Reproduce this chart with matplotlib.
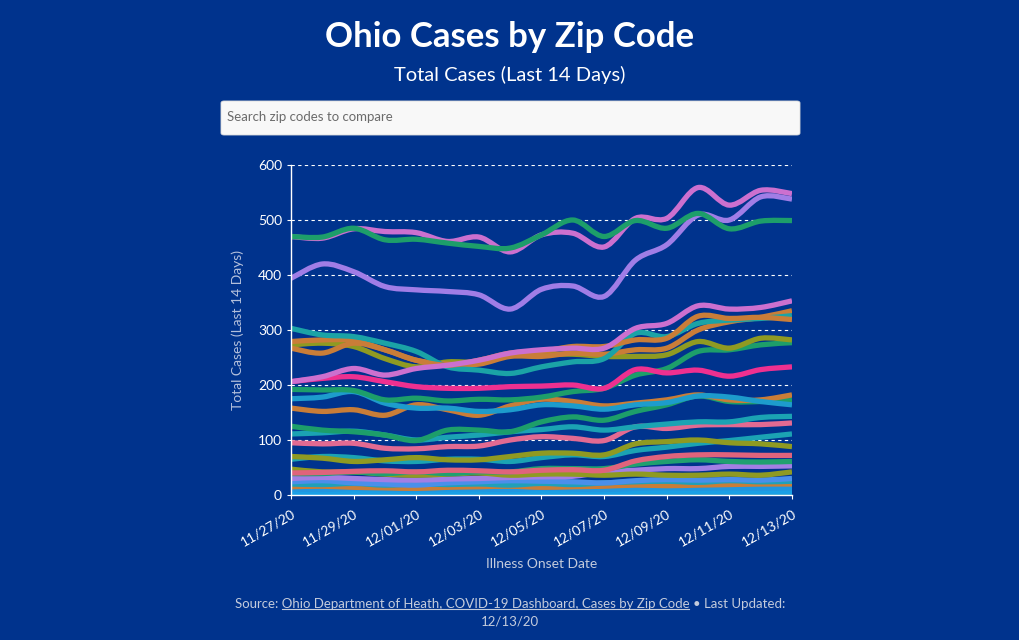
import matplotlib
matplotlib.use("Agg")
import matplotlib.pyplot as plt
from matplotlib.path import Path
from matplotlib.patches import PathPatch, FancyBboxPatch
from matplotlib.lines import Line2D
import numpy as np

plt.rcParams['font.family'] = ['Lato', 'DejaVu Sans']

# ---- data ----
dates = ["11/27/20", "11/28/20", "11/29/20", "11/30/20", "12/01/20", "12/02/20",
         "12/03/20", "12/04/20", "12/05/20", "12/06/20", "12/07/20", "12/08/20",
         "12/09/20", "12/10/20", "12/11/20", "12/12/20", "12/13/20"]

olive_e    = [0, 0, 0, 0, 0, 0, 0, 3, 3, 0, 3, 3, 3, 3, 0, 0, 0]
lightblue2 = [4, 4, 4, 5, 4, 4, 5, 4, 4, 5, 4, 5, 5, 5, 5, 5, 5]
lightblue  = [11, 10, 12, 11, 10, 11, 11, 10, 12, 11, 10, 12, 13, 12, 13, 12, 13]
orange_d   = [15, 16, 14, 13, 12, 14, 15, 16, 14, 15, 16, 18, 17, 18, 19, 20, 20]
teal_d     = [20, 19, 21, 18, 20, 19, 20, 18, 21, 19, 22, 24, 25, 23, 26, 24, 25]
blue_a     = [24, 26, 22, 20, 18, 22, 24, 26, 25, 24, 22, 26, 28, 27, 28, 27, 30]
lavender_b = [30, 32, 30, 28, 27, 29, 30, 32, 33, 34, 42, 45, 48, 48, 52, 52, 53]
olive_c    = [47, 42, 42, 38, 36, 38, 40, 36, 38, 38, 36, 38, 36, 36, 38, 36, 42]
green_c    = [39, 39, 42, 39, 42, 39, 42, 42, 48, 48, 48, 56, 61, 64, 61, 60, 61]
coral_b    = [40, 41, 43, 44, 42, 45, 44, 42, 45, 46, 45, 62, 70, 73, 73, 72, 72]
teal_c     = [65, 70, 68, 62, 61, 65, 65, 61, 68, 73, 70, 81, 87, 94, 99, 105, 111]
olive_b    = [70, 67, 61, 64, 68, 64, 64, 70, 76, 76, 73, 93, 97, 100, 95, 93, 88]
coral      = [95, 93, 94, 85, 84, 88, 89, 100, 106, 103, 99, 124, 121, 127, 128, 128, 131]
teal_b     = [111, 113, 116, 109, 100, 105, 109, 115, 119, 124, 118, 124, 129, 133, 133, 141, 143]
green_b    = [125, 118, 115, 109, 99, 118, 118, 115, 133, 142, 136, 152, 164, 180, 170, 170, 173]
orange_c   = [158, 152, 155, 145, 164, 155, 145, 162, 174, 170, 162, 167, 173, 182, 173, 173, 182]
cyan_blue  = [175, 178, 188, 167, 158, 158, 152, 155, 164, 162, 156, 164, 168, 180, 178, 170, 164]
green_a2   = [192, 191, 190, 173, 176, 171, 174, 173, 178, 188, 194, 218, 230, 261, 264, 273, 277]
hot_pink   = [206, 212, 215, 206, 197, 194, 194, 197, 198, 200, 194, 228, 222, 227, 216, 228, 233]
olive_a    = [273, 276, 270, 248, 233, 242, 242, 255, 255, 256, 252, 252, 255, 279, 267, 285, 282]
orange_b   = [279, 282, 281, 264, 245, 238, 238, 252, 252, 258, 256, 264, 267, 300, 315, 323, 335]
orange_a   = [267, 258, 276, 264, 245, 236, 245, 258, 261, 270, 270, 282, 285, 325, 321, 323, 319]
teal_a     = [303, 291, 288, 276, 261, 233, 227, 221, 233, 242, 248, 294, 288, 312, 318, 321, 326]
orchid_low = [206, 215, 230, 218, 230, 236, 245, 258, 264, 267, 267, 303, 312, 344, 338, 341, 353]
lavender   = [394, 420, 406, 379, 373, 370, 364, 338, 374, 380, 361, 427, 455, 509, 500, 542, 538]
green_top  = [470, 469, 485, 464, 465, 458, 452, 449, 473, 500, 470, 499, 485, 512, 484, 498, 499]
orchid_top = [470, 467, 484, 479, 477, 461, 469, 442, 473, 476, 451, 503, 503, 559, 527, 554, 548]

series = [
    (olive_e, '#8f9a22'), (lightblue2, '#1aa0e6'), (lightblue, '#2196e0'),
    (orange_d, '#c97d38'), (teal_d, '#20a0b8'), (blue_a, '#4a8fea'),
    (lavender_b, '#a27fe4'), (olive_c, '#8f9a22'), (green_c, '#20a070'),
    (coral_b, '#e0637c'), (teal_c, '#1ba3b3'), (olive_b, '#8f9a22'),
    (coral, '#e26a92'), (teal_b, '#1ba3b3'), (green_b, '#1d9e6a'),
    (orange_c, '#c97d38'), (cyan_blue, '#1d9ccc'), (green_a2, '#1d9e6a'),
    (hot_pink, '#ee3090'), (olive_a, '#8f9a22'), (orange_b, '#c97d38'),
    (teal_a, '#1ba3a6'), (orange_a, '#c97d38'), (orchid_low, '#cc70cf'),
    (lavender, '#a07de6'), (orchid_top, '#cc70cf'), (green_top, '#1d9e6a'),
]

BG = '#00338d'


def smooth_path(xs, ys):
    # cardinal (catmull-rom) curve through the daily values, drawn as bezier segments
    verts = [(xs[0], ys[0])]
    codes = [Path.MOVETO]
    n = len(xs)
    for i in range(n - 1):
        p0 = i - 1 if i > 0 else i
        p3 = i + 2 if i + 2 < n else i + 1
        c1 = (xs[i] + (xs[i + 1] - xs[p0]) / 6, ys[i] + (ys[i + 1] - ys[p0]) / 6)
        c2 = (xs[i + 1] - (xs[p3] - xs[i]) / 6, ys[i + 1] - (ys[p3] - ys[i]) / 6)
        verts += [c1, c2, (xs[i + 1], ys[i + 1])]
        codes += [Path.CURVE4] * 3
    return Path(verts, codes)


fig = plt.figure(figsize=(10.2, 6.4), dpi=100)
fig.patch.set_facecolor(BG)
ax = fig.add_axes([291 / 1020, 1 - 495 / 640, 501 / 1020, 330 / 640])
ax.set_facecolor(BG)

x = np.arange(len(dates))
for vals, col in series:
    ax.add_patch(PathPatch(smooth_path(x, vals), fill=False, edgecolor=col, lw=3.8,
                           capstyle='butt', joinstyle='round'))

ax.set_xlim(0, len(dates) - 1)
ax.set_ylim(0, 600)
ax.set_yticks(range(0, 601, 100))
ax.set_xticks(x[::2])
ax.set_xticklabels(dates[::2], rotation=30, ha='right', va='top', rotation_mode='anchor')
ax.tick_params(colors='white', labelsize=10, length=3, width=0.8)
ax.tick_params(axis='x', pad=6)
for yv in range(100, 601, 100):
    ax.axhline(yv, color='white', lw=0.8, ls=(0, (3, 3)), zorder=0)
for s in ['top', 'right']:
    ax.spines[s].set_visible(False)
for s in ['left', 'bottom']:
    ax.spines[s].set_color('white')
    ax.spines[s].set_linewidth(1)
ax.set_ylabel("Total Cases (Last 14 Days)", color='#b4c0dc', fontsize=10, labelpad=10)
ax.set_xlabel("Illness Onset Date", color='#c3cbdc', fontsize=10, labelpad=7)

# header
fig.text(0.5, 1 - 37 / 640, "Ohio Cases by Zip Code", color='white', fontsize=25,
         fontweight='bold', ha='center', va='center')
fig.text(0.5, 1 - 75 / 640, "Total Cases (Last 14 Days)", color='white', fontsize=14.5,
         ha='center', va='center')
box = FancyBboxPatch((221 / 1020, 1 - 135 / 640), 579 / 1020, 34 / 640,
                     boxstyle="round,pad=0,rounding_size=0.003", transform=fig.transFigure,
                     facecolor='#f8f8f8', edgecolor='#dddddd', lw=0.6)
fig.patches.append(box)
fig.text(227 / 1020, 1 - 117 / 640, "Search zip codes to compare", color='#6b6b6b',
         fontsize=9.5, ha='left', va='center')

# source line with underlined link
src = "Source: Ohio Department of Heath, COVID-19 Dashboard, Cases by Zip Code \u2022 Last Updated:"
src_col = '#c3cbdc'
src_y = 1 - 604 / 640
t = fig.text(0.5, src_y, src, color=src_col, fontsize=9.5, ha='center', va='center')
fig.text(0.5, 1 - 621 / 640, "12/13/20", color=src_col, fontsize=9.5, ha='center', va='center')

r = fig.canvas.get_renderer()


def width_of(s):
    tt = fig.text(0, 0, s, fontsize=9.5)
    w = tt.get_window_extent(r).width
    tt.remove()
    return w


bb = t.get_window_extent(r)
u0 = bb.x0 + width_of("Source: O") - width_of("O")
u1 = bb.x0 + width_of("Source: Ohio Department of Heath, COVID-19 Dashboard, Cases by Zip Code")
uy = bb.y0 + 1
W, H = fig.bbox.width, fig.bbox.height
fig.lines.append(Line2D([u0 / W, u1 / W], [uy / H, uy / H], transform=fig.transFigure,
                        color=src_col, lw=0.8))

fig.savefig("out.png", dpi=100, facecolor=BG)
